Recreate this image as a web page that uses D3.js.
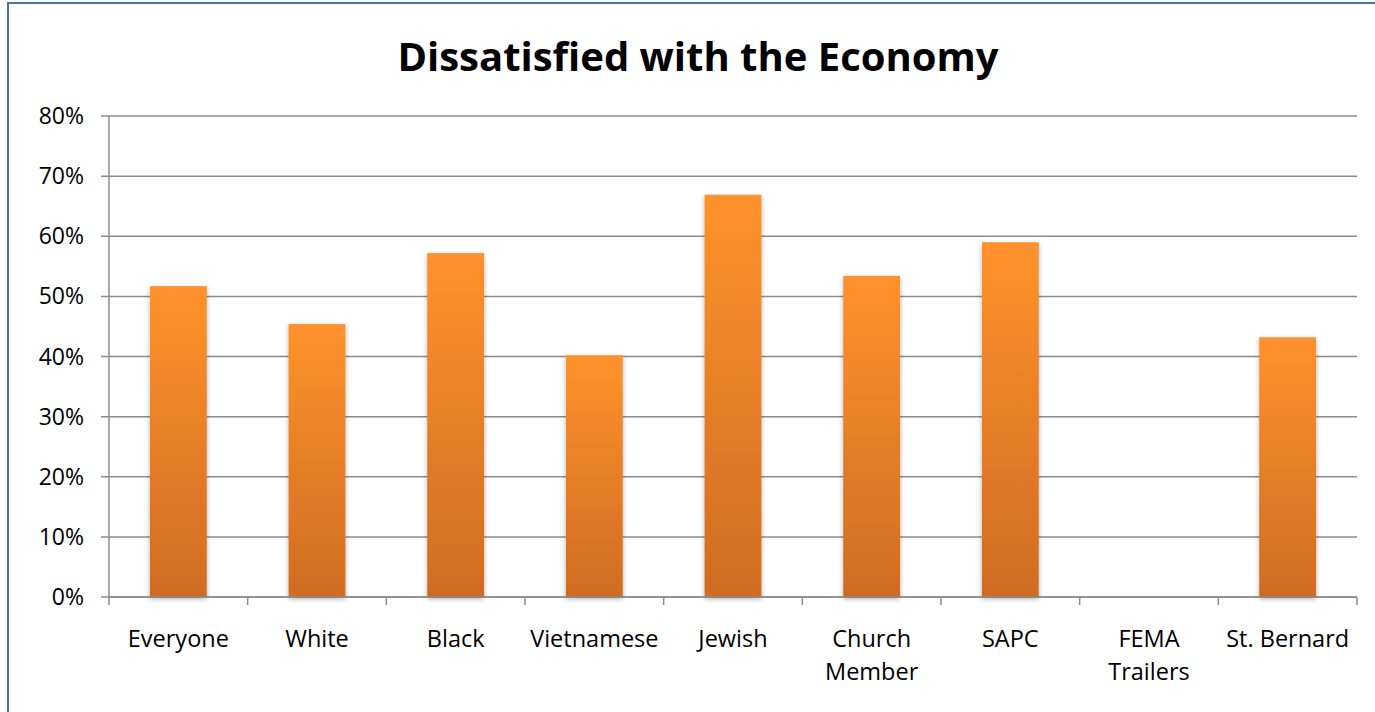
<!DOCTYPE html>
<html><head><meta charset="utf-8">
<script src="https://cdn.jsdelivr.net/npm/d3@7"></script>
<style>body{margin:0;background:#fff;} svg{display:block;}</style>
</head><body>
<svg id="chart" width="1375" height="712"></svg>
<script>
const categories = ["Everyone","White","Black","Vietnamese","Jewish","Church Member","SAPC","FEMA Trailers","St. Bernard"];
const values = [0.517,0.454,0.572,0.402,0.669,0.534,0.590,0,0.432];
const yTicks = [0,0.1,0.2,0.3,0.4,0.5,0.6,0.7,0.8];
const title = "Dissatisfied with the Economy";

const svg = d3.select("#chart");
const font = "'Open Sans', sans-serif";
const m = {left:109, right:1357, top:116, bottom:597};

const defs = svg.append("defs");
const g = defs.append("linearGradient").attr("id","barGrad").attr("x1",0).attr("y1",0).attr("x2",0).attr("y2",1);
g.append("stop").attr("offset","0%").attr("stop-color","#FF922D");
g.append("stop").attr("offset","100%").attr("stop-color","#CF6C21");
const f = defs.append("filter").attr("id","shadow").attr("x","-20%").attr("y","-10%").attr("width","140%").attr("height","120%");
f.append("feDropShadow").attr("dx",0).attr("dy",2).attr("stdDeviation",2.5).attr("flood-color","#000").attr("flood-opacity",0.3);

svg.append("rect").attr("x",8).attr("y",3).attr("width",1400).attr("height",800)
  .attr("fill","#fff").attr("stroke","#4A72A8").attr("stroke-width",2);

svg.append("text").attr("x",698).attr("y",71).attr("text-anchor","middle")
  .attr("font-family",font).attr("font-weight","bold").attr("font-size",40)
  .attr("fill","#000").text(title);

const x = d3.scaleBand().domain(categories).range([m.left,m.right]).paddingInner(0.59).paddingOuter(0.295);
const y = d3.scaleLinear().domain([0,0.8]).range([m.bottom,m.top]);

// gridlines
svg.append("g").selectAll("line").data(yTicks).join("line")
  .attr("x1",m.left-8).attr("x2",m.right).attr("y1",d=>y(d)).attr("y2",d=>y(d))
  .attr("stroke","#8C8C8C").attr("stroke-width",1.5);

// y axis line
svg.append("line").attr("x1",m.left).attr("x2",m.left).attr("y1",m.top).attr("y2",m.bottom)
  .attr("stroke","#8C8C8C").attr("stroke-width",1.5);

// y labels
svg.append("g").selectAll("text").data(yTicks).join("text")
  .attr("x",84).attr("y",d=>y(d)+8).attr("text-anchor","end")
  .attr("font-family",font).attr("font-size",23).attr("fill","#000")
  .text(d=>d3.format(".0%")(d));

// bars
svg.append("g").selectAll("rect").data(categories.map((c,i)=>({c,v:values[i]}))).join("rect")
  .attr("x",d=>x(d.c)).attr("width",x.bandwidth())
  .attr("y",d=>y(d.v)).attr("height",d=>y(0)-y(d.v))
  .attr("fill","url(#barGrad)").attr("filter","url(#shadow)");

// x axis
const step = (m.right-m.left)/categories.length;
const bounds = d3.range(categories.length+1).map(i=>m.left+i*step);
svg.append("line").attr("x1",m.left).attr("x2",m.right).attr("y1",m.bottom).attr("y2",m.bottom)
  .attr("stroke","#8C8C8C").attr("stroke-width",1.5);
svg.append("g").selectAll("line").data(bounds).join("line")
  .attr("x1",d=>d).attr("x2",d=>d).attr("y1",m.bottom).attr("y2",m.bottom+8)
  .attr("stroke","#8C8C8C").attr("stroke-width",1.5);

// x labels
const labelLines = {"Church Member":["Church","Member"],"FEMA Trailers":["FEMA","Trailers"]};
const xl = svg.append("g").selectAll("text").data(categories).join("text")
  .attr("text-anchor","middle").attr("font-family",font).attr("font-size",23.5).attr("fill","#000");
xl.each(function(c){
  const lines = labelLines[c] || [c];
  const t = d3.select(this);
  lines.forEach((l,i)=>t.append("tspan").attr("x",x(c)+x.bandwidth()/2).attr("y",647+i*33).text(l));
});
</script>
</body></html>
